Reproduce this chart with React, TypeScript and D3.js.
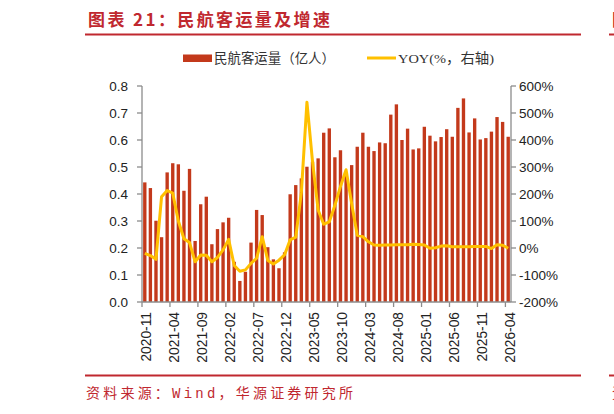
import React from 'react';
import * as d3 from 'd3';

// monthly categories 2020-11 .. 2026-04
const months: string[] = [
  '2020-11', '2020-12',
  '2021-01', '2021-02', '2021-03', '2021-04', '2021-05', '2021-06', '2021-07', '2021-08', '2021-09', '2021-10', '2021-11', '2021-12',
  '2022-01', '2022-02', '2022-03', '2022-04', '2022-05', '2022-06', '2022-07', '2022-08', '2022-09', '2022-10', '2022-11', '2022-12',
  '2023-01', '2023-02', '2023-03', '2023-04', '2023-05', '2023-06', '2023-07', '2023-08', '2023-09', '2023-10', '2023-11', '2023-12',
  '2024-01', '2024-02', '2024-03', '2024-04', '2024-05', '2024-06', '2024-07', '2024-08', '2024-09', '2024-10', '2024-11', '2024-12',
  '2025-01', '2025-02', '2025-03', '2025-04', '2025-05', '2025-06', '2025-07', '2025-08', '2025-09', '2025-10', '2025-11', '2025-12',
  '2026-01', '2026-02', '2026-03', '2026-04',
];

// 民航客运量（亿人）
const passengers: number[] = [
  0.443, 0.422,
  0.301, 0.240, 0.480, 0.514, 0.510, 0.412, 0.493, 0.226, 0.362, 0.390, 0.214, 0.270,
  0.295, 0.312, 0.149, 0.078, 0.112, 0.220, 0.341, 0.322, 0.203, 0.158, 0.125, 0.184,
  0.399, 0.433, 0.458, 0.501, 0.520, 0.532, 0.627, 0.643, 0.536, 0.562, 0.470, 0.507,
  0.575, 0.627, 0.575, 0.559, 0.591, 0.588, 0.694, 0.732, 0.600, 0.642, 0.565, 0.569,
  0.649, 0.616, 0.595, 0.611, 0.640, 0.612, 0.719, 0.754, 0.628, 0.680, 0.602, 0.607,
  0.631, 0.685, 0.667, 0.612,
];

// YOY (%, right axis)
const yoy: number[] = [
  -20, -28,
  -42, 190, 213, 203, 100, 34, 20, -51, -26, -27, -51, -35,
  -7, 32, -65, -86, -81, -57, -38, 42, -46, -59, -45, -25,
  30, 40, 205, 540, 320, 141, 88, 97, 158, 228, 290, 165,
  47, 42, 23, 11, 10, 11, 11, 12, 12, 12, 14, 13,
  11, -1, 1, 7, 8, 5, 5, 5, 5, 6, 6, 6,
  -2, 12, 10, -1,
];

const leftTicks = [0, 0.1, 0.2, 0.3, 0.4, 0.5, 0.6, 0.7, 0.8];
const rightTicks = [-200, -100, 0, 100, 200, 300, 400, 500, 600];

const RED = '#C0282F';
const BAR = '#C3391B';
const GOLD = '#FFC000';
const AXIS = '#8C8C8C';

export default function App() {
  const width = 614;
  const height = 414;
  const left = 142;
  const right = 511;
  const top = 86;
  const bottom = 302;

  const x = d3.scaleBand<string>().domain(months).range([left, right]).paddingInner(0.4).paddingOuter(0.2);
  const yL = d3.scaleLinear().domain([0, 0.8]).range([bottom, top]);
  const yR = d3.scaleLinear().domain([-200, 600]).range([bottom, top]);
  const bw = x.bandwidth();
  const step = x.step();

  const line = d3.line<number>()
    .x((_, i) => (x(months[i]) as number) + bw / 2)
    .y(d => yR(d));

  const tickMonths = months.filter((_, i) => i % 5 === 0);
  const boundary = (m: string) => (x(m) as number) - step * 0.2;

  const axisFont = "'Liberation Sans', Arial, sans-serif";

  return (
    <div style={{ position: 'absolute', left: 0, top: 0 }}>
      <svg width={width} height={height} style={{ display: 'block', background: '#fff' }}>
        {/* title */}
        <text x={88} y={26} fill={RED} fontSize={17} fontWeight="bold"
          fontFamily="'Noto Sans CJK SC', sans-serif" textLength={242} lengthAdjust="spacing">
          图表 21：民航客运量及增速
        </text>
        <line x1={85} x2={581} y1={34.5} y2={34.5} stroke={RED} strokeWidth={2} />
        <line x1={609} x2={614} y1={34.5} y2={34.5} stroke={RED} strokeWidth={2} />
        <text x={612} y={26} fill={RED} fontSize={17} fontWeight="bold" fontFamily="'Noto Sans CJK SC', sans-serif">图</text>

        {/* legend */}
        <rect x={183} y={54.5} width={29} height={7.5} fill={BAR} />
        <text x={214} y={63} fontSize={13.5} fill="#333" fontFamily="'Noto Sans CJK SC', sans-serif"
          textLength={121} lengthAdjust="spacingAndGlyphs">民航客运量（亿人）</text>
        <line x1={367} x2={396} y1={58} y2={58} stroke={GOLD} strokeWidth={3} />
        <text x={398} y={63} fontSize={13.5} fill="#333" fontFamily="'Liberation Serif', 'Noto Sans CJK SC', serif"
          textLength={96} lengthAdjust="spacingAndGlyphs">YOY(%，右轴)</text>

        {/* bars */}
        {passengers.map((v, i) => (
          <rect key={months[i]} x={x(months[i])} y={yL(v)} width={bw} height={yL(0) - yL(v)} fill={BAR} />
        ))}

        {/* yoy line */}
        <path d={line(yoy) || ''} fill="none" stroke={GOLD} strokeWidth={3} strokeLinejoin="round" />

        {/* left axis */}
        <line x1={left} x2={left} y1={top} y2={bottom} stroke={AXIS} strokeWidth={1.3} />
        {leftTicks.map(t => (
          <g key={`l${t}`}>
            <line x1={left - 5} x2={left} y1={yL(t)} y2={yL(t)} stroke={AXIS} strokeWidth={1.3} />
            <text x={128} y={yL(t)} dy="0.35em" textAnchor="end" fontSize={13.5} fill="#222" fontFamily={axisFont}>
              {t.toFixed(1)}
            </text>
          </g>
        ))}

        {/* right axis */}
        <line x1={right} x2={right} y1={top} y2={bottom} stroke={AXIS} strokeWidth={1.3} />
        {rightTicks.map(t => (
          <g key={`r${t}`}>
            <line x1={right} x2={right + 5} y1={yR(t)} y2={yR(t)} stroke={AXIS} strokeWidth={1.3} />
            <text x={519} y={yR(t)} dy="0.35em" textAnchor="start" fontSize={13.5} fill="#222" fontFamily={axisFont}>
              {`${t}%`}
            </text>
          </g>
        ))}

        {/* bottom axis */}
        <line x1={left} x2={right} y1={bottom} y2={bottom} stroke={AXIS} strokeWidth={1.3} />
        {tickMonths.map(m => (
          <g key={`b${m}`}>
            <line x1={boundary(m)} x2={boundary(m)} y1={bottom} y2={bottom + 5} stroke={AXIS} strokeWidth={1.3} />
            <text
              transform={`translate(${(x(m) as number) + bw / 2 + 1.5},312) rotate(-90)`}
              dy="0.35em" textAnchor="end" fontSize={13.8} fill="#222" fontFamily={axisFont}>
              {m}
            </text>
          </g>
        ))}

        {/* source */}
        <line x1={85} x2={581} y1={375.5} y2={375.5} stroke={RED} strokeWidth={2} />
        <line x1={609} x2={614} y1={375.5} y2={375.5} stroke={RED} strokeWidth={2} />
        <text x={86} y={398} fill={RED} fontSize={14} fontFamily="'Liberation Mono', 'Noto Sans CJK SC', monospace"
          textLength={267} lengthAdjust="spacing">
          资料来源：Wind，华源证券研究所
        </text>
        <text x={612} y={398} fill={RED} fontSize={14} fontFamily="'Noto Sans CJK SC', sans-serif">资</text>
      </svg>
    </div>
  );
}
